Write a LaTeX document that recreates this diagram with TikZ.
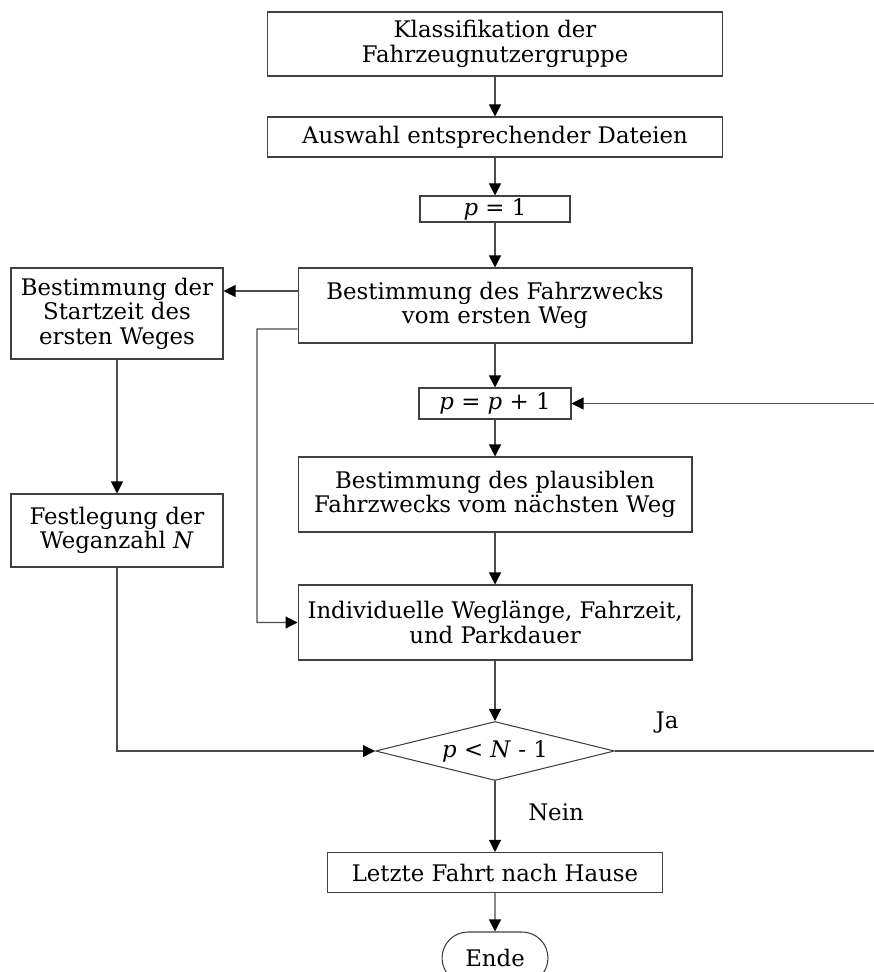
\documentclass[tikz,border=0pt]{standalone}
\usepackage{fontspec}
\setmainfont{DejaVu Serif}
\usetikzlibrary{arrows.meta,shapes.geometric,shapes.misc}

\tikzset{
  box/.style={rectangle, draw=black!75, line width=0.6pt, align=center, inner sep=2pt},
  decision/.style={diamond, draw=black!75, line width=0.6pt, inner sep=0pt, aspect=4},
  terminal/.style={rounded rectangle, draw=black!75, line width=0.6pt, inner sep=2pt},
  arr/.style={draw=black!70, line width=0.6pt, -{Triangle[length=2.4mm,width=2.4mm,color=black]}},
  line/.style={draw=black!70, line width=0.6pt}
}

\begin{document}
\begin{tikzpicture}[x=0.02cm, y=-0.02cm, font=\fontsize{13}{14}\selectfont]
    \useasboundingbox (0,0) rectangle (873,972);

    % Hauptkette
    \node[box, minimum width=9.1cm, minimum height=1.28cm] (klass) at (495,44) {Klassifikation der\\Fahrzeugnutzergruppe};
    \node[box, minimum width=9.1cm, minimum height=0.8cm] (auswahl) at (495,137) {Auswahl entsprechender Dateien};
    \node[box, minimum width=3cm, minimum height=0.52cm, inner sep=0pt] (pstart) at (495,209) {\textit{p} = 1};
    \node[box, minimum width=7.88cm, minimum height=1.5cm] (zweck) at (495,305.5) {Bestimmung des Fahrzwecks\\vom ersten Weg};
    \node[box, minimum width=3.04cm, minimum height=0.62cm, inner sep=0pt] (pnext) at (495,403.5) {\textit{p} = \textit{p} + 1};
    \node[box, minimum width=7.88cm, minimum height=1.5cm] (plaus) at (495,494.5) {Bestimmung des plausiblen\\Fahrzwecks vom nächsten Weg};
    \node[box, minimum width=7.88cm, minimum height=1.5cm] (indiv) at (495,622.5) {Individuelle Weglänge, Fahrzeit,\\und Parkdauer};
    \node[decision, minimum width=4.78cm, minimum height=1.18cm] (abfrage) at (495,751) {\textit{p} < \textit{N} - 1};
    \node[box, minimum width=6.7cm, minimum height=0.8cm] (letzte) at (495,872.5) {Letzte Fahrt nach Hause};
    \node[terminal, minimum width=2.26cm, minimum height=1.04cm] (ende) at (495,958) {Ende};

    % linker Zweig
    \node[box, minimum width=4.24cm, minimum height=1.82cm] (startzeit) at (117,313.5) {Bestimmung der\\Startzeit des\\ersten Weges};
    \node[box, minimum width=4.24cm, minimum height=1.46cm] (anzahl) at (117,530.5) {Festlegung der\\Weganzahl \textit{N}};

    % Beschriftungen
    \node (ja) at (667,723) {Ja};
    \node (nein) at (556,812) {Nein};

    % Hilfspunkte
    \coordinate (knick) at (257,329);
    \coordinate (rechts) at (878,751);

    % Verbindungen
    \draw[arr] (klass) -- (auswahl);
    \draw[arr] (auswahl) -- (pstart);
    \draw[arr] (pstart) -- (zweck);
    \draw[arr] (zweck) -- (pnext);
    \draw[arr] (pnext) -- (plaus);
    \draw[arr] (plaus) -- (indiv);
    \draw[arr] (indiv) -- (abfrage);
    \draw[arr] (abfrage) -- (letzte);
    \draw[arr] (letzte) -- (ende);

    \draw[arr] ([yshift=0.29cm]zweck.west) -- ([yshift=0.29cm]zweck.west -| startzeit.east);
    \draw[arr] ([yshift=-0.47cm]zweck.west) -- (knick) |- (indiv.west);
    \draw[arr] (startzeit) -- (anzahl);
    \draw[arr] (anzahl.south) |- (abfrage.west);
    \draw[arr] (abfrage.east) -- (rechts) |- (pnext.east);
\end{tikzpicture}
\end{document}
